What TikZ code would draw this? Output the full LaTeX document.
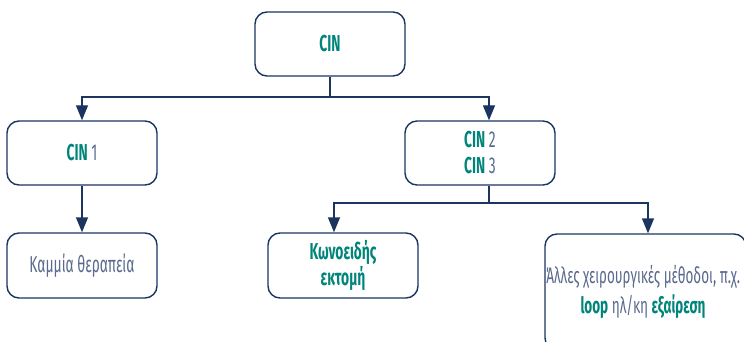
\documentclass[tikz,border=0pt]{standalone}
\usepackage{fontspec}
\setmainfont{Fira Sans}[FakeStretch=0.6]
\usepackage{xcolor}
\usetikzlibrary{arrows.meta, positioning, calc}

\definecolor{navy}{HTML}{1B3560}
\definecolor{tealtext}{HTML}{00857A}
\definecolor{graytext}{HTML}{5A6A8E}
\newcommand{\hl}[1]{\textbf{\color{tealtext}#1}}

\begin{document}
\begin{tikzpicture}[x=1pt, y=-1pt,
        stagebox/.style={draw=navy, line width=1.4pt, rounded corners=12pt, fill=white,
            minimum width=150pt, minimum height=64pt, align=center, inner sep=0pt,
            text=graytext, font=\fontsize{23}{26}\selectfont},
        link/.style={draw=navy, line width=1.4pt},
        arrow/.style={link, -{Triangle[width=12pt, length=15pt]}}]
        \useasboundingbox (0,0) rectangle (744,342);
        \begin{scope}
        \clip (0,0) rectangle (744,342);

        % boxes
        \node[stagebox] (cin) at (330,44) {\hl{CIN}};
        \node[stagebox] (cinone) at (82,153) {\hl{CIN} 1};
        \node[stagebox] (cintwo) at (480,153) {\hl{CIN} 2\\\hl{CIN} 3};
        \node[stagebox, minimum height=65pt] (none) at (82,265.5) {Καμμία θεραπεία};
        \node[stagebox, minimum height=65pt] (cone) at (343,265.5) {\hl{Κωνοειδής}\\\hl{εκτομή}};
        \node[stagebox, minimum width=201pt, minimum height=116pt] (other) at (645.5,292) {};
        \node[align=center, inner sep=0pt, text=graytext,
            font=\fontsize{22.5}{30}\selectfont] (othertext) at (643,292)
            {Άλλες χειρουργικές μέθοδοι, π.χ.\\\hl{loop} ηλ/κη \hl{εξαίρεση}};

        % connectors
        \coordinate (split) at (330,97);
        \coordinate (splittwo) at (489,203);
        \draw[link] (cin.south) -- (split);
        \draw[arrow] (split) -| (cinone.north);
        \draw[arrow] (split) -| ([xshift=9pt]cintwo.north);
        \draw[arrow] (cinone) -- (none);
        \draw[link] ([xshift=9pt]cintwo.south) -- (splittwo);
        \draw[arrow] (splittwo) -| ([xshift=-9pt]cone.north);
        \draw[arrow] (splittwo) -| ([xshift=2.5pt]other.north);
        \end{scope}
    \end{tikzpicture}
\end{document}
